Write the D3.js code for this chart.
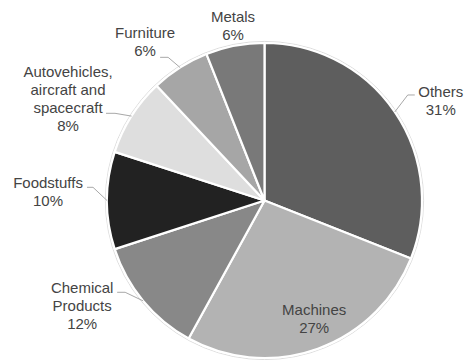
<!DOCTYPE html>
<html>
<head>
<meta charset="utf-8">
<script src="https://cdn.jsdelivr.net/npm/d3@7"></script>
<style>
  html, body { margin: 0; padding: 0; background: #fff; }
  svg { display: block; }
  text { font-family: "Liberation Sans", Arial, Helvetica, sans-serif; font-size: 15px; fill: #444; }
</style>
</head>
<body>
<svg id="chart" width="464" height="360"></svg>
<script>
// Share of exports by product group (percent)
const categories = ["Others", "Machines", "Chemical Products", "Foodstuffs",
                    "Autovehicles, aircraft and spacecraft", "Furniture", "Metals"];
const shares = [31, 27, 12, 10, 8, 6, 6];
const labelLines = [
  ["Others"], ["Machines"], ["Chemical", "Products"], ["Foodstuffs"],
  ["Autovehicles,", "aircraft and", "spacecraft"], ["Furniture"], ["Metals"]
];
const sliceColors = ["#5e5e5e", "#b3b3b3", "#888888", "#222222", "#dedede", "#a6a6a6", "#797979"];

// Label layout: text block offset from the slice's anchor point, plus the
// leader elbow offset and horizontal run (null = no leader / label inside).
const layout = [
  { text: [46, -15],   elbow: [13, -17],   run: 7 },
  { text: [7, -4],     inside: true },
  { text: [-61, -8],   elbow: [-18, -8.6], run: -8 },
  { text: [-59, -13],  elbow: [-14, -13.2], run: -6 },
  { text: [-63.5, -39], elbow: [-16.5, -2.8], run: -9 },
  { text: [-35, -29.5], elbow: [-12, -10.2], run: -8 },
  { text: [-2, -24],   elbow: null }
];

const cx = 264.5, cy = 200.5, R = 157.5, lineH = 18;

const svg = d3.select("#chart");
const g = svg.append("g").attr("transform", `translate(${cx},${cy})`);

const data = categories.map((c, i) => ({ name: c, value: shares[i], i }));
const pie = d3.pie().value(d => d.value).sort(null);
const arcs = pie(data);

const arc = d3.arc().innerRadius(0).outerRadius(R);
const edgeArc = d3.arc().innerRadius(R).outerRadius(R);
const innerArc = d3.arc().innerRadius(R * 0.8).outerRadius(R * 0.8);

// faint outline around the pie
g.append("circle")
  .attr("r", R + 1.6)
  .attr("fill", "none")
  .attr("stroke", "#d4d4d4")
  .attr("stroke-width", 0.8);

g.selectAll("path.slice")
  .data(arcs)
  .join("path")
  .attr("class", "slice")
  .attr("d", arc)
  .attr("fill", d => sliceColors[d.data.i])
  .attr("stroke", "#fff")
  .attr("stroke-width", 2.2)
  .attr("stroke-linejoin", "round");

arcs.forEach(d => {
  const i = d.data.i;
  const L = layout[i];
  const anchor = L.inside ? innerArc.centroid(d) : edgeArc.centroid(d);
  const lines = labelLines[i].concat([d.data.value + "%"]);

  if (L.elbow) {
    const ex = anchor[0] + L.elbow[0], ey = anchor[1] + L.elbow[1];
    g.append("polyline")
      .attr("points", [anchor, [ex, ey], [ex + L.run, ey]].map(p => p.join(",")).join(" "))
      .attr("fill", "none")
      .attr("stroke", "#a8a8a8")
      .attr("stroke-width", 1);
  }

  const t = g.append("text")
    .attr("text-anchor", "middle")
    .attr("x", anchor[0] + L.text[0])
    .attr("y", anchor[1] + L.text[1]);
  lines.forEach((s, k) => {
    t.append("tspan")
      .attr("x", anchor[0] + L.text[0])
      .attr("dy", k === 0 ? 0 : lineH)
      .text(s);
  });
});
</script>
</body>
</html>
